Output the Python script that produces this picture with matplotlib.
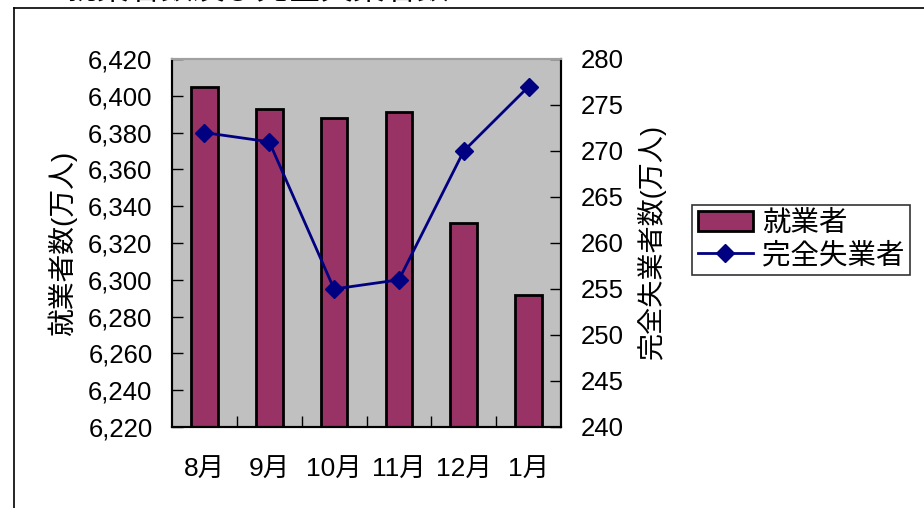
import matplotlib.pyplot as plt
import numpy as np

plt.rcParams['font.family'] = ['Liberation Sans', 'Noto Sans CJK JP']

# データ
months = ['8月', '9月', '10月', '11月', '12月', '1月']
employed = [6405, 6393, 6388, 6391, 6331, 6292]    # 就業者(万人)
unemployed = [272, 271, 255, 256, 270, 277]        # 完全失業者(万人)

fig = plt.figure(figsize=(9.24, 5.08), dpi=100)
ax = fig.add_axes([172 / 924, 1 - 427 / 508, (561 - 172) / 924, (427 - 59) / 508])
ax.set_facecolor('#C0C0C0')

x = np.arange(len(months))
ax.bar(x, [v - 6220 for v in employed], bottom=6220, width=0.41,
       color='#993366', edgecolor='black', linewidth=2, label='就業者', zorder=2)
ax.set_xlim(-0.5, len(months) - 0.5)
ax.set_ylim(6220, 6420)
ax.set_yticks(np.arange(6220, 6421, 20))
ax.set_yticklabels([f'{v:,}' for v in range(6220, 6421, 20)])
ax.set_xticks(x)
ax.set_xticklabels(months)
ax.set_xticks(np.arange(0.5, len(months) - 0.5, 1), minor=True)
ax.tick_params(axis='x', which='major', length=0, labelsize=19, pad=22)
ax.tick_params(axis='x', which='minor', length=8, direction='in', width=1)
ax.tick_params(axis='y', direction='in', length=8, width=1, labelsize=18.5, pad=14)
ax.set_ylabel('就業者数(万人)', fontsize=20, labelpad=8)

# 右軸: 完全失業者
ax2 = ax.twinx()
ax2.plot(x, unemployed, color='#000080', marker='D', markersize=9.5, linewidth=2,
         label='完全失業者', zorder=3)
ax2.set_ylim(240, 280)
ax2.set_yticks(np.arange(240, 281, 5))
ax2.tick_params(axis='y', direction='in', length=8, width=1, labelsize=18.5, pad=14)
ax2.set_ylabel('完全失業者数(万人)', fontsize=19.5, labelpad=10)

for a in (ax, ax2):
    for s in ('left', 'right', 'bottom'):
        a.spines[s].set_color('black')
        a.spines[s].set_linewidth(1.5)
    a.spines['top'].set_color('#A0A0A0')
    a.spines['top'].set_linewidth(1.5)

# 凡例
h1, l1 = ax.get_legend_handles_labels()
h2, l2 = ax2.get_legend_handles_labels()
leg = fig.legend(h1 + h2, l1 + l2, loc='upper left',
                 bbox_to_anchor=(692 / 924, 1 - 205 / 508), fontsize=20.5,
                 frameon=True, fancybox=False, borderaxespad=0,
                 handlelength=1.95, handletextpad=0.3, borderpad=0.2, labelspacing=0.2)
leg.get_frame().set_edgecolor('black')
leg.get_frame().set_linewidth(1.2)

# 外枠とタイトル(上端で切れている)
fig.add_artist(plt.Line2D([14 / 924, 14 / 924], [0, 1 - 8 / 508], color='black', linewidth=1.2))
fig.add_artist(plt.Line2D([14 / 924, 1], [1 - 8 / 508, 1 - 8 / 508], color='black', linewidth=1.2))
fig.text(15 / 924, 1 - 6 / 508, '3　就業者数及び完全失業者数', fontsize=23, va='bottom', ha='left')

fig.savefig('out.png', dpi=100)
